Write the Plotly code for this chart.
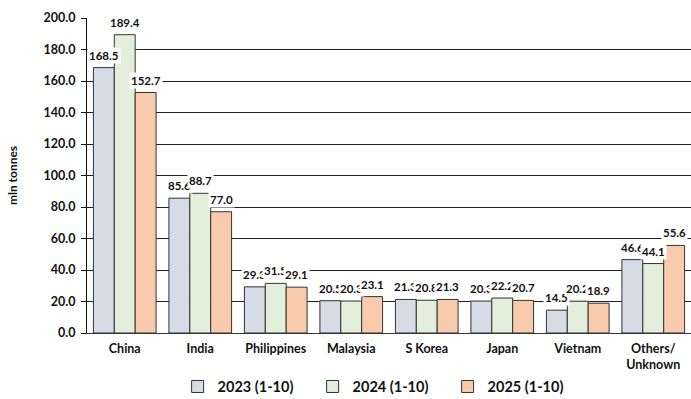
import plotly.graph_objects as go

categories = ["China", "India", "Philippines", "Malaysia", "S Korea", "Japan", "Vietnam", "Others/<br>Unknown"]
series_names = ["2023 (1-10)", "2024 (1-10)", "2025 (1-10)"]
v2023 = [168.5, 85.6, 29.3, 20.5, 21.3, 20.3, 14.5, 46.6]
v2024 = [189.4, 88.7, 31.5, 20.3, 20.8, 22.2, 20.2, 44.1]
v2025 = [152.7, 77.0, 29.1, 23.1, 21.3, 20.7, 18.9, 55.6]
y_ticks = [0, 20, 40, 60, 80, 100, 120, 140, 160, 180, 200]

colors = ["#D6DCE5", "#E2EFDA", "#F8CBAD"]
FONT = "Lato"
TXT = "#111111"
bargap = 0.17

fig = go.Figure()
for name, vals, c in zip(series_names, [v2023, v2024, v2025], colors):
    fig.add_trace(go.Bar(
        x=list(range(len(categories))), y=vals, name=name,
        marker=dict(color=c, line=dict(color="#333333", width=1)),
    ))

w = (1 - bargap) / 3
annots = []
for i in range(len(categories)):
    for j, vals in enumerate([v2023, v2024, v2025]):
        annots.append(dict(
            x=i + (j - 1) * w, y=vals[i], xref="x", yref="y",
            text="<b>%.1f</b>" % vals[i], showarrow=False,
            yanchor="bottom", yshift=4, bgcolor="white", borderpad=1,
            font=dict(family=FONT, size=11.5, color=TXT),
        ))

fig.update_layout(
    width=691, height=399,
    margin=dict(l=87, r=0, t=18, b=66, autoexpand=False),
    paper_bgcolor="white", plot_bgcolor="white",
    barmode="group", bargap=bargap, bargroupgap=0,
    font=dict(family=FONT, color=TXT),
    showlegend=True,
    legend=dict(orientation="h", x=0.15, xanchor="left", y=-0.17, yanchor="middle",
                font=dict(family=FONT, size=14.5, color=TXT, weight="bold"),
                itemwidth=30, entrywidth=90, entrywidthmode="pixels", traceorder="normal"),
    annotations=annots,
    xaxis=dict(
        tickmode="array", tickvals=list(range(len(categories))),
        ticktext=["<b>%s</b>" % c for c in categories],
        range=[-0.5, len(categories) - 0.5],
        showline=True, linecolor="#333333", linewidth=1,
        showgrid=False, ticks="", ticklabelstandoff=4,
        tickfont=dict(family=FONT, size=12.5, color=TXT),
    ),
    yaxis=dict(
        range=[0, 200], tickmode="array", tickvals=y_ticks,
        ticktext=["<b>%.1f</b>" % t for t in y_ticks],
        showline=True, linecolor="#111111", linewidth=1,
        showgrid=True, gridcolor="#222222", gridwidth=1,
        ticks="outside", ticklen=5, tickcolor="#111111", ticklabelstandoff=3,
        tickfont=dict(family=FONT, size=12.5, color=TXT),
        title=dict(text="<b>mln tonnes</b>", font=dict(family=FONT, size=12, color=TXT), standoff=23),
        zeroline=False,
    ),
)

fig.write_html("out.html")
